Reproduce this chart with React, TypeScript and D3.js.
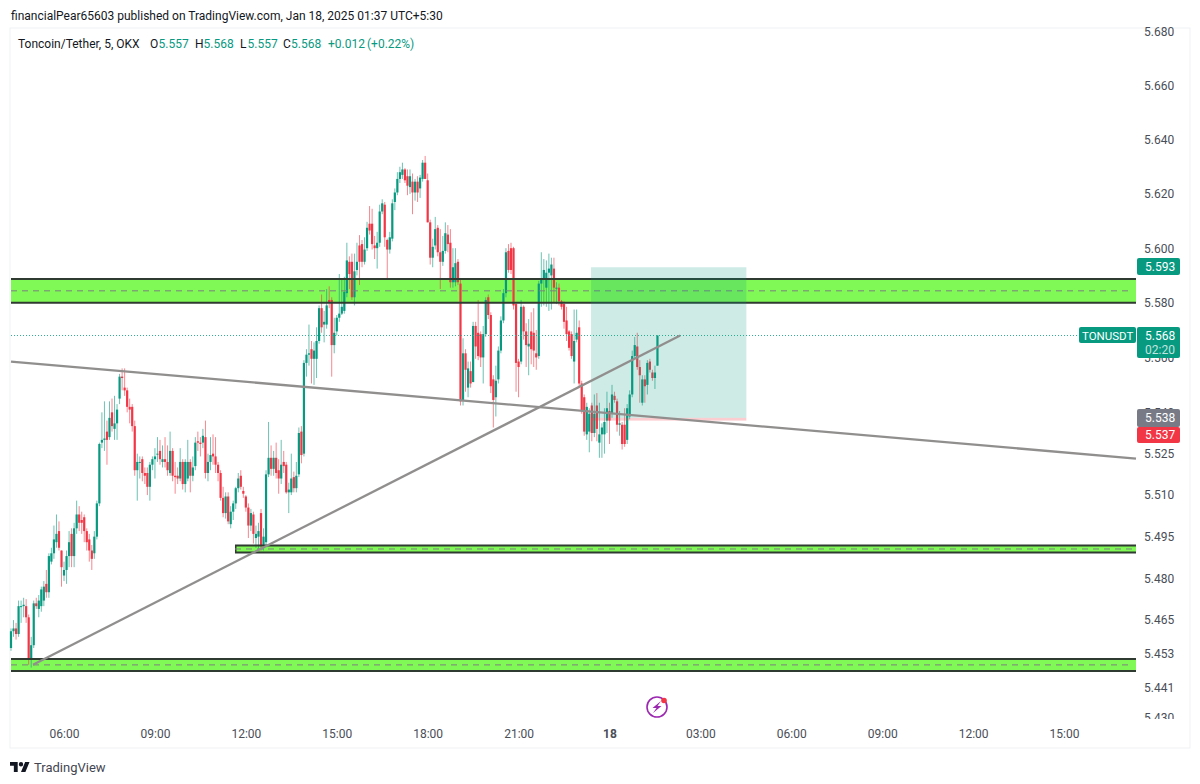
import React, { useEffect, useRef } from 'react';
import * as d3 from 'd3';

const opens = [
  5.455, 5.461, 5.462, 5.460, 5.470, 5.470, 5.470, 5.466, 5.451, 5.456,
  5.471, 5.469, 5.470, 5.472, 5.478, 5.475, 5.486, 5.489, 5.493, 5.497,
  5.490, 5.481, 5.483, 5.488, 5.496, 5.488, 5.498, 5.503, 5.501, 5.502,
  5.497, 5.494, 5.490, 5.489, 5.495, 5.507, 5.529, 5.530, 5.533, 5.531,
  5.540, 5.534, 5.536, 5.545, 5.553, 5.549, 5.548, 5.542, 5.542, 5.535,
  5.519, 5.522, 5.523, 5.518, 5.518, 5.513, 5.521, 5.523, 5.525, 5.526,
  5.522, 5.523, 5.522, 5.518, 5.526, 5.517, 5.517, 5.516, 5.522, 5.514,
  5.516, 5.522, 5.517, 5.5205, 5.5295, 5.529, 5.529, 5.531, 5.518, 5.522,
  5.525, 5.524, 5.521, 5.518, 5.509, 5.5035, 5.5095, 5.4995, 5.504, 5.507,
  5.5125, 5.517, 5.5115, 5.5095, 5.5055, 5.499, 5.503, 5.4945, 5.495, 5.5035,
  5.492, 5.493, 5.5175, 5.5235, 5.5195, 5.5235, 5.519, 5.516, 5.522, 5.521,
  5.511, 5.511, 5.5165, 5.5125, 5.5175, 5.533, 5.525, 5.558, 5.561, 5.563,
  5.5595, 5.5595, 5.566, 5.578, 5.572, 5.572, 5.581, 5.581, 5.5645, 5.5695,
  5.5745, 5.576, 5.577, 5.5835, 5.595, 5.595, 5.582, 5.592, 5.601, 5.6015,
  5.595, 5.600, 5.609, 5.609, 5.601, 5.600, 5.602, 5.6135, 5.616, 5.603,
  5.5995, 5.6035, 5.617, 5.6205, 5.6255, 5.627, 5.629, 5.6265, 5.6225, 5.6245,
  5.6205, 5.6245, 5.622, 5.6255, 5.6315, 5.625, 5.6095, 5.5965, 5.601, 5.6075,
  5.5985, 5.595, 5.599, 5.605, 5.602, 5.5875, 5.5875, 5.595, 5.587, 5.5445,
  5.5615, 5.549, 5.555, 5.551, 5.5715, 5.569, 5.5685, 5.560, 5.5685, 5.582,
  5.5755, 5.552, 5.5455, 5.552, 5.5625, 5.5735, 5.5835, 5.599, 5.600, 5.600,
  5.5795, 5.5585, 5.5585, 5.5785, 5.5695, 5.564, 5.5695, 5.569, 5.5615, 5.5605,
  5.587, 5.589, 5.5855, 5.591, 5.590, 5.5925, 5.5855, 5.5855, 5.5805, 5.5795,
  5.5735, 5.5695, 5.5685, 5.5585, 5.5665, 5.571, 5.5505, 5.5455, 5.532, 5.533,
  5.5425, 5.5325, 5.5425, 5.529, 5.532, 5.532, 5.537, 5.5405, 5.5395, 5.546,
  5.544, 5.5355, 5.5355, 5.5355, 5.530, 5.5385, 5.5465, 5.5605, 5.564, 5.5565,
  5.5435, 5.552, 5.550, 5.5585, 5.5545, 5.5525, 5.557,
];
const highs = [
  5.462, 5.465, 5.464, 5.472, 5.472, 5.473, 5.4725, 5.467, 5.459, 5.472,
  5.473, 5.474, 5.477, 5.479, 5.483, 5.489, 5.491, 5.499, 5.503, 5.5005,
  5.490, 5.486, 5.490, 5.497, 5.498, 5.500, 5.508, 5.506, 5.504, 5.503,
  5.498, 5.496, 5.492, 5.497, 5.508, 5.529, 5.540, 5.544, 5.537, 5.544,
  5.545, 5.546, 5.543, 5.554, 5.556, 5.556, 5.549, 5.545, 5.543, 5.537,
  5.525, 5.524, 5.524, 5.520, 5.520, 5.522, 5.524, 5.527, 5.531, 5.530,
  5.528, 5.531, 5.528, 5.533, 5.527, 5.522, 5.520, 5.527, 5.523, 5.523,
  5.530, 5.523, 5.524, 5.531, 5.533, 5.531, 5.534, 5.537, 5.525, 5.531,
  5.532, 5.531, 5.522, 5.519, 5.513, 5.511, 5.511, 5.506, 5.508, 5.513,
  5.518, 5.519, 5.513, 5.510, 5.507, 5.505, 5.504, 5.499, 5.500, 5.505,
  5.498, 5.519, 5.5365, 5.528, 5.526, 5.529, 5.523, 5.530, 5.526, 5.522,
  5.5145, 5.525, 5.5185, 5.522, 5.5345, 5.535, 5.559, 5.563, 5.572, 5.566,
  5.5655, 5.571, 5.579, 5.583, 5.577, 5.585, 5.586, 5.582, 5.5745, 5.5755,
  5.5905, 5.589, 5.5895, 5.602, 5.597, 5.598, 5.598, 5.602, 5.6048, 5.603,
  5.604, 5.6097, 5.6155, 5.6145, 5.6045, 5.606, 5.616, 5.618, 5.617, 5.6035,
  5.606, 5.618, 5.622, 5.628, 5.630, 5.6315, 5.6295, 5.629, 5.629, 5.6275,
  5.6255, 5.6265, 5.627, 5.6325, 5.634, 5.6275, 5.6105, 5.6035, 5.6115, 5.6085,
  5.607, 5.6045, 5.6095, 5.6085, 5.607, 5.600, 5.600, 5.596, 5.5885, 5.567,
  5.563, 5.5585, 5.5585, 5.573, 5.573, 5.581, 5.5695, 5.5715, 5.582, 5.583,
  5.5765, 5.5535, 5.557, 5.564, 5.575, 5.585, 5.600, 5.6015, 5.602, 5.6005,
  5.580, 5.5595, 5.581, 5.579, 5.5725, 5.574, 5.5765, 5.578, 5.570, 5.588,
  5.5985, 5.596, 5.5955, 5.598, 5.5965, 5.5965, 5.5875, 5.587, 5.581, 5.5805,
  5.5785, 5.570, 5.5695, 5.5775, 5.5775, 5.5735, 5.5515, 5.5465, 5.5435, 5.5415,
  5.5435, 5.5465, 5.547, 5.5435, 5.536, 5.5415, 5.5475, 5.5435, 5.550, 5.5475,
  5.545, 5.5405, 5.5365, 5.5415, 5.543, 5.548, 5.5625, 5.5675, 5.569, 5.559,
  5.5535, 5.5535, 5.559, 5.5595, 5.5555, 5.557, 5.568,
];
const lows = [
  5.454, 5.459, 5.458, 5.459, 5.464, 5.466, 5.464, 5.449, 5.448, 5.455,
  5.469, 5.466, 5.468, 5.470, 5.473, 5.473, 5.485, 5.487, 5.491, 5.490,
  5.477, 5.479, 5.478, 5.484, 5.484, 5.484, 5.496, 5.497, 5.496, 5.493,
  5.490, 5.486, 5.483, 5.487, 5.494, 5.506, 5.527, 5.526, 5.521, 5.530,
  5.533, 5.530, 5.530, 5.543, 5.548, 5.546, 5.540, 5.536, 5.533, 5.517,
  5.508, 5.516, 5.515, 5.514, 5.510, 5.508, 5.519, 5.516, 5.522, 5.521,
  5.520, 5.520, 5.517, 5.517, 5.515, 5.5105, 5.514, 5.515, 5.512, 5.511,
  5.515, 5.511, 5.515, 5.519, 5.526, 5.524, 5.527, 5.516, 5.515, 5.519,
  5.521, 5.518, 5.515, 5.508, 5.502, 5.5015, 5.4995, 5.498, 5.501, 5.505,
  5.511, 5.512, 5.509, 5.504, 5.4945, 5.497, 5.4925, 5.491, 5.490, 5.490,
  5.490, 5.492, 5.5165, 5.517, 5.517, 5.516, 5.5105, 5.514, 5.518, 5.5105,
  5.5035, 5.510, 5.511, 5.511, 5.5165, 5.5215, 5.524, 5.553, 5.557, 5.5505,
  5.550, 5.5525, 5.565, 5.569, 5.5655, 5.5705, 5.578, 5.553, 5.5615, 5.568,
  5.573, 5.5755, 5.576, 5.582, 5.585, 5.581, 5.579, 5.590, 5.5865, 5.593,
  5.594, 5.599, 5.605, 5.5995, 5.596, 5.5925, 5.6005, 5.6125, 5.6005, 5.5885,
  5.598, 5.6025, 5.614, 5.6195, 5.624, 5.6255, 5.624, 5.6195, 5.620, 5.6125,
  5.6175, 5.617, 5.6185, 5.6245, 5.6255, 5.6095, 5.594, 5.593, 5.5995, 5.597,
  5.585, 5.5935, 5.598, 5.5985, 5.5855, 5.5855, 5.586, 5.5865, 5.5425, 5.5425,
  5.5475, 5.5455, 5.549, 5.5525, 5.5595, 5.559, 5.5565, 5.5505, 5.5675, 5.574,
  5.547, 5.5345, 5.5385, 5.5505, 5.5615, 5.5725, 5.582, 5.591, 5.5905, 5.5775,
  5.5475, 5.5455, 5.5575, 5.5665, 5.5565, 5.5535, 5.5575, 5.5565, 5.5555, 5.5595,
  5.5785, 5.579, 5.5785, 5.577, 5.5775, 5.580, 5.5795, 5.579, 5.5775, 5.5705,
  5.566, 5.5625, 5.5595, 5.5505, 5.5655, 5.5495, 5.5395, 5.5315, 5.530, 5.5255,
  5.5295, 5.531, 5.5295, 5.5235, 5.5235, 5.525, 5.5325, 5.5285, 5.538, 5.5435,
  5.533, 5.5315, 5.5265, 5.5275, 5.5285, 5.5375, 5.5455, 5.5595, 5.5555, 5.5435,
  5.5425, 5.5435, 5.5465, 5.5545, 5.5515, 5.5485, 5.557,
];
const closes = [
  5.461, 5.462, 5.460, 5.470, 5.470, 5.4705, 5.466, 5.451, 5.456, 5.471,
  5.470, 5.472, 5.476, 5.477, 5.475, 5.488, 5.489, 5.494, 5.496, 5.491,
  5.484, 5.483, 5.488, 5.493, 5.488, 5.498, 5.503, 5.500, 5.500, 5.497,
  5.493, 5.490, 5.487, 5.495, 5.507, 5.5285, 5.530, 5.5305, 5.530, 5.538,
  5.535, 5.536, 5.541, 5.553, 5.5525, 5.548, 5.542, 5.541, 5.535, 5.519,
  5.522, 5.522, 5.518, 5.517, 5.513, 5.521, 5.523, 5.524, 5.525, 5.523,
  5.523, 5.522, 5.519, 5.526, 5.517, 5.5165, 5.516, 5.522, 5.514, 5.522,
  5.522, 5.517, 5.520, 5.529, 5.529, 5.5285, 5.5315, 5.518, 5.522, 5.5245,
  5.524, 5.521, 5.518, 5.509, 5.5035, 5.5095, 5.5005, 5.504, 5.507, 5.5125,
  5.516, 5.513, 5.5105, 5.5055, 5.499, 5.5035, 5.496, 5.496, 5.497, 5.492,
  5.495, 5.5175, 5.5235, 5.5195, 5.5235, 5.518, 5.516, 5.521, 5.5205, 5.511,
  5.512, 5.516, 5.5125, 5.517, 5.5325, 5.5245, 5.558, 5.561, 5.5615, 5.5595,
  5.5625, 5.566, 5.578, 5.571, 5.573, 5.579, 5.580, 5.5645, 5.569, 5.5745,
  5.576, 5.5785, 5.584, 5.5955, 5.5905, 5.582, 5.5915, 5.595, 5.595, 5.595,
  5.5995, 5.6075, 5.6065, 5.6015, 5.600, 5.602, 5.6135, 5.6165, 5.604, 5.5995,
  5.604, 5.6165, 5.6205, 5.6255, 5.628, 5.629, 5.625, 5.623, 5.6265, 5.6205,
  5.6245, 5.6205, 5.626, 5.6315, 5.6255, 5.6095, 5.5965, 5.6005, 5.607, 5.5985,
  5.595, 5.599, 5.6055, 5.6015, 5.5875, 5.593, 5.5945, 5.5875, 5.544, 5.5615,
  5.5555, 5.556, 5.5505, 5.5715, 5.564, 5.5605, 5.560, 5.5685, 5.581, 5.5755,
  5.5495, 5.5445, 5.5515, 5.5625, 5.5735, 5.5835, 5.5985, 5.592, 5.592, 5.579,
  5.558, 5.5565, 5.5785, 5.5695, 5.5645, 5.565, 5.563, 5.5625, 5.560, 5.587,
  5.589, 5.592, 5.591, 5.5925, 5.594, 5.5855, 5.5855, 5.5805, 5.5785, 5.573,
  5.5685, 5.5635, 5.5605, 5.566, 5.569, 5.5505, 5.5405, 5.533, 5.542, 5.5395,
  5.5325, 5.5395, 5.534, 5.532, 5.5345, 5.5365, 5.5415, 5.537, 5.5465, 5.5445,
  5.5355, 5.536, 5.5285, 5.5285, 5.5415, 5.5465, 5.5605, 5.5645, 5.5565, 5.5535,
  5.552, 5.5495, 5.558, 5.5555, 5.5525, 5.5545, 5.568,
];

const priceTicks = [5.68, 5.66, 5.64, 5.62, 5.6, 5.58, 5.56, 5.54, 5.525, 5.51, 5.495, 5.48, 5.465, 5.453, 5.441, 5.43];
const timeLabels = ['06:00', '09:00', '12:00', '15:00', '18:00', '21:00', '18', '03:00', '06:00', '09:00', '12:00', '15:00'];
const timeLabelBars = [21, 57, 93, 129, 165, 201, 237, 273, 309, 345, 381, 417];

// zones: first bar, top price, bottom price
const zoneStarts = [0, 88.7, 0];
const zoneTops = [5.5887, 5.4918, 5.4511];
const zoneBottoms = [5.58, 5.4893, 5.4468];

// trend lines: [bar, price] at each end
const trendLineA = [[0, 5.5585], [445.5, 5.5232]];
const trendLineB = [[8.7, 5.449], [265, 5.568]];

// long position tool
const positionBars = [229.7, 291.2];
const positionPrices = [5.593, 5.538, 5.537];

const legendParts = [
  { x: 18, t: 'Toncoin/Tether, 5, OKX', c: '#131722' },
  { x: 150, t: 'O', c: '#131722' }, { x: 158.5, t: '5.557', c: '#089981' },
  { x: 195, t: 'H', c: '#131722' }, { x: 203.5, t: '5.568', c: '#089981' },
  { x: 240, t: 'L', c: '#131722' }, { x: 247.5, t: '5.557', c: '#089981' },
  { x: 283, t: 'C', c: '#131722' }, { x: 291, t: '5.568', c: '#089981' },
  { x: 328, t: '+0.012', c: '#089981' }, { x: 367, t: '(+0.22%)', c: '#089981' },
];

const FONT = "Roboto, sans-serif";
const UP = '#089981';
const DOWN = '#F23645';
const ZONE = '#80F956';
const LINE_GREY = '#918e8e';

export default function App() {
  const svgRef = useRef<SVGSVGElement>(null);

  useEffect(() => {
    if (!svgRef.current) return;
    document.body.style.margin = '0';
    const svg = d3.select(svgRef.current);
    svg.selectAll('*').remove();

    const x = d3.scaleLinear().domain([0, 445.5]).range([11, 1136]);
    const y = d3.scaleLog().domain([5.43, 5.68]).range([718, 32]);

    // frame
    svg.append('rect').attr('width', 1200).attr('height', 784).attr('fill', '#fff');
    svg.append('rect').attr('x', 10).attr('y', 28).attr('width', 1180).attr('height', 720)
      .attr('fill', 'none').attr('stroke', '#f0f1f3').attr('stroke-width', 1);

    const zones = d3.range(zoneTops.length);

    svg.append('g').selectAll('rect').data(zones).enter().append('rect')
      .attr('x', (i) => x(zoneStarts[i]))
      .attr('y', (i) => y(zoneTops[i]))
      .attr('width', (i) => 1136 - x(zoneStarts[i]))
      .attr('height', (i) => y(zoneBottoms[i]) - y(zoneTops[i]))
      .attr('fill', ZONE);

    // candles
    const bars = d3.range(opens.length);
    const candles = svg.append('g');
    candles.selectAll('line').data(bars).enter().append('line')
      .attr('x1', (i) => x(i)).attr('x2', (i) => x(i))
      .attr('y1', (i) => y(highs[i])).attr('y2', (i) => y(lows[i]))
      .attr('stroke', (i) => (closes[i] >= opens[i] ? UP : DOWN))
      .attr('stroke-opacity', 0.6)
      .attr('stroke-width', 1);
    candles.selectAll('rect').data(bars).enter().append('rect')
      .attr('x', (i) => x(i) - 1.1)
      .attr('width', 2.2)
      .attr('y', (i) => y(Math.max(opens[i], closes[i])))
      .attr('height', (i) => Math.max(1, Math.abs(y(opens[i]) - y(closes[i]))))
      .attr('fill', (i) => (closes[i] >= opens[i] ? UP : DOWN));

    // zone borders and middle dashes
    const zoneLines = svg.append('g');
    zones.forEach((i) => {
      [zoneTops[i], zoneBottoms[i]].forEach((p) => {
        zoneLines.append('line')
          .attr('x1', x(zoneStarts[i])).attr('x2', 1136)
          .attr('y1', y(p)).attr('y2', y(p))
          .attr('stroke', '#2f3a30').attr('stroke-width', 2);
      });
      if (zoneStarts[i] > 0) {
        zoneLines.append('rect')
          .attr('x', x(zoneStarts[i])).attr('y', y(zoneTops[i]))
          .attr('width', 1.5).attr('height', y(zoneBottoms[i]) - y(zoneTops[i]))
          .attr('fill', '#2f3a30');
      }
      const mid = (zoneTops[i] + zoneBottoms[i]) / 2;
      zoneLines.append('line')
        .attr('x1', x(zoneStarts[i])).attr('x2', 1133)
        .attr('y1', y(mid)).attr('y2', y(mid))
        .attr('stroke', '#7d7f80').attr('stroke-width', 1).attr('stroke-dasharray', '6 5');
    });

    // last price line
    const lastY = Math.floor(y(5.568)) + 0.5;
    svg.append('line')
      .attr('x1', 11).attr('x2', 1077)
      .attr('y1', lastY).attr('y2', lastY)
      .attr('stroke', '#2fae98').attr('stroke-width', 1).attr('stroke-dasharray', '1 2');

    // long position box
    svg.append('rect')
      .attr('x', x(positionBars[0])).attr('width', x(positionBars[1]) - x(positionBars[0]))
      .attr('y', y(positionPrices[0])).attr('height', y(positionPrices[1]) - y(positionPrices[0]))
      .attr('fill', UP).attr('fill-opacity', 0.2);
    svg.append('rect')
      .attr('x', x(positionBars[0])).attr('width', x(positionBars[1]) - x(positionBars[0]))
      .attr('y', y(positionPrices[1])).attr('height', y(positionPrices[2]) - y(positionPrices[1]))
      .attr('fill', DOWN).attr('fill-opacity', 0.25);

    // trend lines
    const trend = d3.line<number[]>().x((d) => x(d[0])).y((d) => y(d[1]));
    [trendLineA, trendLineB].forEach((pts) => {
      svg.append('path').attr('d', trend(pts)).attr('fill', 'none')
        .attr('stroke', LINE_GREY).attr('stroke-width', 2.3);
    });

    // price axis, the last label is cut by the bottom of the pane
    svg.append('defs').append('clipPath').attr('id', 'scale-clip')
      .append('rect').attr('x', 1137).attr('y', 20).attr('width', 52).attr('height', 699);
    const priceAxis = svg.append('g').attr('clip-path', 'url(#scale-clip)')
      .append('g')
      .attr('transform', 'translate(1144,0)')
      .call(d3.axisRight(y).tickValues(priceTicks).tickFormat((d) => d3.format('.3f')(d as number)).tickSize(0).tickPadding(0));
    priceAxis.select('.domain').remove();
    priceAxis.selectAll('text').attr('fill', '#4a4e57').style('font', `12px ${FONT}`);

    // time axis
    const timeAxis = svg.append('g')
      .attr('transform', 'translate(0,729)')
      .call(d3.axisBottom(x).tickValues(timeLabelBars)
        .tickFormat((_, i) => timeLabels[i]).tickSize(0).tickPadding(0));
    timeAxis.select('.domain').remove();
    timeAxis.selectAll('text').attr('fill', '#4a4e57').style('font', `12px ${FONT}`)
      .style('font-weight', (_, i) => (timeLabels[i] === '18' ? 700 : 400));

    // price labels on the scale
    const tag = (lx: number, ly: number, w: number, h: number, fill: string) =>
      svg.append('rect').attr('x', lx).attr('y', ly).attr('width', w).attr('height', h).attr('rx', 2).attr('fill', fill);
    const tagText = (lx: number, ly: number, s: string, op = 1, size = 12) =>
      svg.append('text').attr('x', lx).attr('y', ly).attr('fill', '#fff').attr('fill-opacity', op)
        .style('font', `${size}px ${FONT}`).text(s);
    tag(1137, 258, 43, 17, UP);
    tagText(1145, 271, '5.593');
    tag(1079, 327, 57, 16, UP);
    tagText(1082, 339.5, 'TONUSDT', 1, 11.5);
    tag(1137, 327, 43, 31, UP);
    tagText(1145, 340, '5.568');
    tagText(1145, 354, '02:20', 0.75);
    tag(1137, 409, 43, 18, '#787b86');
    tagText(1145, 422, '5.538');
    tag(1137, 427, 43, 16, DOWN);
    tagText(1145, 439, '5.537');

    // header text
    svg.append('text').attr('x', 11).attr('y', 20).attr('fill', '#131722')
      .style('font', `12px ${FONT}`)
      .text('financialPear65603 published on TradingView.com, Jan 18, 2025 01:37 UTC+5:30');
    svg.append('g').selectAll('text').data(legendParts).enter().append('text')
      .attr('x', (d) => d.x).attr('y', 47.5).attr('fill', (d) => d.c)
      .style('font', `12px ${FONT}`).text((d) => d.t);

    // bolt icon
    const bolt = svg.append('g').attr('transform', 'translate(657,707)');
    bolt.append('circle').attr('r', 10).attr('fill', 'none').attr('stroke', '#9c27b0').attr('stroke-width', 1.6);
    bolt.append('path').attr('d', 'M4 -6 L-4.5 1 L-0.5 1 L-4 6 L4.5 -1 L0.5 -1 Z').attr('fill', '#9c27b0');
    bolt.append('circle').attr('cx', 7).attr('cy', -6.5).attr('r', 2.8).attr('fill', '#f23645');

    // footer logo
    svg.append('path')
      .attr('transform', 'translate(10,759.8) scale(0.55)')
      .attr('d', 'M14 22H7V11H0V4h14v18zM28 22h-8l7.5-18h8L28 22z M20 4a4 4 0 1 1 0 8a4 4 0 1 1 0 -8z')
      .attr('fill', '#131722');
    svg.append('text').attr('x', 34).attr('y', 772).attr('fill', '#434651')
      .style('font', `13px ${FONT}`).text('TradingView');
  }, []);

  return <svg ref={svgRef} width={1200} height={784} style={{ display: 'block', position: 'absolute', left: 0, top: 0 }} />;
}
